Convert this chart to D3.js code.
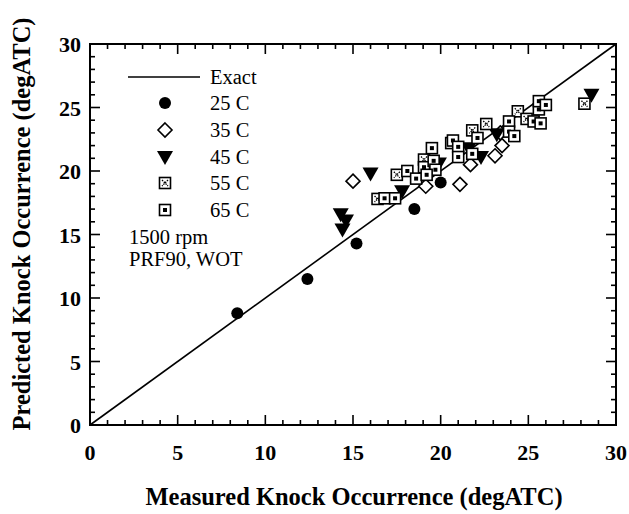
<!DOCTYPE html>
<html><head><meta charset="utf-8">
<script src="https://cdn.jsdelivr.net/npm/d3@7"></script>
<style>body{margin:0;background:#fff}</style>
</head><body>
<svg id="c" width="629" height="514"></svg>
<script>
const xTicks = [0,5,10,15,20,25,30];
const yTicks = [0,5,10,15,20,25,30];
const legendLabels = ["Exact","25 C","35 C","45 C","55 C","65 C"];
const notes = ["1500 rpm","PRF90, WOT"];
const xTitle = "Measured Knock Occurrence (degATC)";
const yTitle = "Predicted Knock Occurrence (degATC)";

const s25 = [[8.4,8.8],[12.4,11.5],[15.2,14.3],[18.5,17.0],[20.0,19.1]];
const s35 = [[15.0,19.2],[19.15,18.8],[21.1,18.95],[21.7,20.5],[23.1,21.2],[23.5,22.0],[23.4,23.0]];
const s45 = [[14.3,16.6],[14.6,16.1],[14.4,15.4],[16.0,19.8],[17.8,18.4],[19.9,20.6],[21.6,21.8],[22.3,21.1],[23.2,22.9],[28.6,26.0]];
const s55 = [[16.4,17.8],[17.5,19.7],[19.05,20.9],[20.6,22.2],[21.8,23.2],[22.6,23.7],[24.4,24.7],[24.9,24.1],[28.2,25.3]];
const s65 = [[16.8,17.85],[17.4,17.85],[18.1,20.0],[18.6,19.4],[19.05,20.3],[19.5,21.8],[19.6,20.8],[19.7,20.1],[19.2,19.7],[20.7,22.4],[21.0,21.9],[21.0,21.1],[21.8,21.35],[22.1,22.6],[23.9,23.9],[23.9,23.1],[24.2,22.75],[25.3,23.9],[25.7,23.75],[25.6,24.85],[25.6,25.5],[26.0,25.2]];

const svg = d3.select("#c");
const L=90, R=616, T=44, B=425;
const x = d3.scaleLinear().domain([0,30]).range([L,R]);
const y = d3.scaleLinear().domain([0,30]).range([B,T]);
const serif = "'Liberation Serif','Times New Roman',serif";

// ticks (inward) on all sides
const minor = d3.range(0,31,1);
const g = svg.append("g").attr("stroke","#000").attr("stroke-width",1.6);
minor.forEach(v=>{
  const len = v%5===0 ? 10 : 5;
  g.append("line").attr("x1",x(v)).attr("x2",x(v)).attr("y1",B).attr("y2",B-len);
  g.append("line").attr("x1",x(v)).attr("x2",x(v)).attr("y1",T).attr("y2",T+len);
  g.append("line").attr("y1",y(v)).attr("y2",y(v)).attr("x1",L).attr("x2",L+len);
  g.append("line").attr("y1",y(v)).attr("y2",y(v)).attr("x1",R).attr("x2",R-len);
});
svg.append("rect").attr("x",L).attr("y",T).attr("width",R-L).attr("height",B-T)
  .attr("fill","none").attr("stroke","#000").attr("stroke-width",2);

// tick labels
svg.selectAll(".xt").data(xTicks).enter().append("text")
  .attr("x",d=>x(d)).attr("y",B+35).attr("text-anchor","middle")
  .attr("font-family",serif).attr("font-weight","bold").attr("font-size",22).text(d=>d);
svg.selectAll(".yt").data(yTicks).enter().append("text")
  .attr("x",L-9).attr("y",d=>y(d)+8).attr("text-anchor","end")
  .attr("font-family",serif).attr("font-weight","bold").attr("font-size",22).text(d=>d);

// titles
svg.append("text").attr("x",354).attr("y",505).attr("text-anchor","middle")
  .attr("font-family",serif).attr("font-weight","bold").attr("font-size",24.5).text(xTitle);
svg.append("text").attr("transform","translate(30,224) rotate(-90)").attr("text-anchor","middle")
  .attr("font-family",serif).attr("font-weight","bold").attr("font-size",24.5).text(yTitle);

// exact line
svg.append("line").attr("x1",x(0)).attr("y1",y(0)).attr("x2",x(30)).attr("y2",y(30))
  .attr("stroke","#000").attr("stroke-width",1.6);

// markers
function drawMarker(sel, type, cx, cy){
  const m = sel.append("g").attr("transform",`translate(${cx},${cy})`);
  if(type===0){
    m.append("circle").attr("r",6).attr("fill","#000");
  } else if(type===1){
    m.append("path").attr("d","M0,-7L7,0L0,7L-7,0Z").attr("fill","#fff").attr("stroke","#000").attr("stroke-width",1.6);
  } else if(type===2){
    m.append("path").attr("d","M-8,-6L8,-6L0,8Z").attr("fill","#000");
  } else if(type===3){
    m.append("rect").attr("x",-5.5).attr("y",-5.5).attr("width",11).attr("height",11).attr("fill","#fff").attr("stroke","#000").attr("stroke-width",1.6);
    m.append("path").attr("d","M-3,-3L3,3M3,-3L-3,3").attr("stroke","#000").attr("stroke-width",1.3).attr("stroke-dasharray","1.5,1");
  } else {
    m.append("rect").attr("x",-5.5).attr("y",-5.5).attr("width",11).attr("height",11).attr("fill","#fff").attr("stroke","#000").attr("stroke-width",1.6);
    m.append("rect").attr("x",-2).attr("y",-2).attr("width",4).attr("height",4).attr("fill","#000");
  }
}
const pts = svg.append("g");
[s25,s35,s45].forEach((s,i)=>s.forEach(d=>drawMarker(pts,i,x(d[0]),y(d[1]))));
s55.forEach(d=>drawMarker(pts,3,x(d[0]),y(d[1])));
s65.forEach(d=>drawMarker(pts,4,x(d[0]),y(d[1])));

// legend
const lg = svg.append("g");
lg.append("line").attr("x1",128).attr("x2",200).attr("y1",77).attr("y2",77).attr("stroke","#000").attr("stroke-width",1.3);
const rowsY = [77,103,130,157,183,210];
legendLabels.forEach((t,i)=>{
  lg.append("text").attr("x",210).attr("y",rowsY[i]+7).attr("font-family",serif).attr("font-size",20.5).text(t);
  if(i>0) drawMarker(lg,i-1,165,rowsY[i]);
});
notes.forEach((t,i)=>{
  svg.append("text").attr("x",129).attr("y",244+i*22).attr("font-family",serif).attr("font-size",20.5).text(t);
});
</script>
</body></html>
